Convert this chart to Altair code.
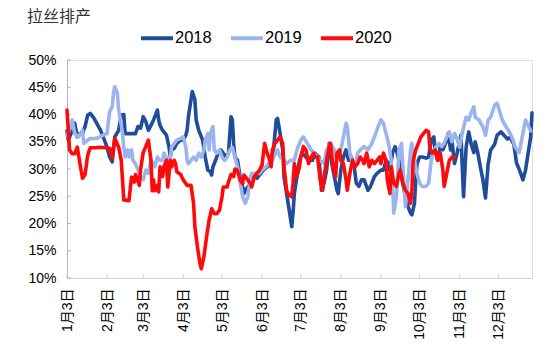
import altair as alt
import pandas as pd

# ---- data (values in %, x = days after Jan 3) ----
DAYS_2018 = [0, 1, 4, 6, 8, 10, 12, 14, 16, 18, 21, 23, 26, 28, 31, 33, 35, 36, 37, 40, 42, 44, 45, 48, 50, 53, 55, 57, 59, 61, 63, 65, 67, 68, 70, 71, 72, 74, 75, 77, 79, 80, 81, 83, 85, 88, 90, 92, 93, 94, 96, 97, 99, 100, 102, 103, 105, 107, 109, 111, 112, 113, 115, 117, 119, 121, 123, 125, 127, 128, 129, 130, 132, 134, 136, 137, 138, 140, 142, 143, 145, 147, 150, 152, 155, 158, 160, 162, 163, 165, 167, 168, 170, 172, 174, 175, 176, 178, 180, 182, 185, 187, 190, 192, 195, 196, 197, 199, 201, 203, 204, 205, 207, 209, 210, 212, 214, 216, 218, 220, 222, 224, 226, 228, 230, 233, 235, 236, 238, 240, 243, 245, 247, 249, 250, 252, 254, 255, 257, 259, 261, 262, 264, 266, 267, 269, 270, 271, 273, 275, 278, 280, 282, 284, 285, 287, 289, 291, 292, 294, 295, 297, 298, 300, 302, 305, 307, 309, 311, 313, 315, 316, 318, 320, 322, 324, 326, 328, 331, 333, 336, 339, 341, 343, 346, 348, 350, 353, 355, 357, 359, 360]
VALS_2018 = [37, 35.3, 37, 38.4, 35.9, 36.5, 36.5, 37.8, 39.9, 40.2, 39.3, 38.4, 37.1, 35.9, 34, 32.2, 31.3, 33.5, 35.9, 37.1, 39.9, 40, 36.5, 36.5, 36.5, 36.5, 37.8, 37.5, 39.6, 38.7, 37.1, 38, 39, 39.6, 40.8, 39, 38, 37.1, 36.8, 36.2, 34, 32.2, 33.5, 33.8, 34.7, 35.3, 35.3, 36.2, 37.1, 39.6, 42.7, 44.2, 42.7, 39, 37.1, 36.5, 35.3, 32.2, 29.8, 29.5, 28.9, 30.4, 31.6, 32.9, 33.5, 32.9, 32.2, 32.9, 39.6, 39, 34.7, 32.2, 31.6, 28.6, 26.7, 25.5, 26.1, 26.7, 27.3, 27.6, 28.6, 28.3, 29.2, 29.8, 30.4, 31.2, 33.9, 39, 39.3, 36.5, 33.5, 28.6, 25.5, 22.5, 19.4, 22, 25.5, 28.6, 31.6, 32.9, 32.2, 31.6, 31.6, 32.9, 32.2, 29.2, 26.1, 27.4, 29.8, 34.7, 34.1, 31, 28.6, 26.1, 25.5, 29.8, 32.2, 33.5, 31.6, 32.2, 31, 27.4, 26.8, 28, 28, 26.1, 26.8, 27.4, 28.6, 29.2, 29.8, 29.8, 31.6, 31, 29.8, 32.9, 34.1, 33.5, 31.6, 28.6, 26.1, 24.9, 23.1, 21.9, 21.6, 23.7, 28, 31, 32.2, 32.2, 32, 32.2, 35.3, 35.9, 33.5, 31.6, 34.1, 33.5, 34.1, 35.3, 36.5, 33.5, 35.3, 31, 32.9, 36.2, 24.9, 34, 36.8, 34.5, 33, 35, 33, 30.4, 28, 24.7, 30.8, 33.5, 34.5, 36.2, 36.8, 36, 35.5, 35.8, 34.5, 31.1, 30, 28, 29.8, 32.9, 35.9, 40.3]

DAYS_2019 = [0, 3, 4, 6, 9, 12, 13, 16, 18, 23, 28, 31, 33, 35, 36, 37, 39, 40, 41, 43, 44, 45, 47, 48, 50, 51, 53, 55, 57, 59, 61, 63, 65, 67, 68, 70, 72, 74, 75, 78, 80, 81, 83, 85, 88, 90, 92, 93, 94, 96, 98, 100, 102, 104, 106, 107, 109, 110, 111, 113, 114, 116, 118, 119, 120, 122, 124, 126, 128, 130, 132, 134, 136, 138, 140, 142, 143, 146, 149, 151, 154, 156, 158, 160, 163, 165, 168, 170, 173, 176, 178, 181, 183, 186, 189, 191, 194, 196, 199, 201, 204, 207, 209, 212, 214, 216, 217, 219, 221, 224, 225, 227, 230, 233, 236, 238, 241, 243, 245, 247, 249, 251, 252, 253, 255, 256, 257, 259, 261, 262, 264, 266, 267, 269, 271, 273, 275, 278, 280, 282, 284, 286, 288, 290, 292, 294, 296, 298, 300, 302, 304, 306, 309, 311, 313, 315, 316, 319, 322, 324, 326, 328, 331, 333, 335, 337, 340, 342, 345, 347, 350, 353, 355, 357, 359]
VALS_2019 = [36.2, 37.8, 39, 36.5, 35.9, 37.1, 34.7, 35.3, 35.6, 35.6, 36.2, 36.5, 40.5, 41.4, 43.9, 45.1, 43.9, 40.8, 39.6, 36.5, 34, 32.2, 33.5, 32.2, 33.5, 31.6, 31, 29.8, 28.6, 28, 29.8, 29.2, 31.6, 31, 30.4, 32.2, 31.6, 31.6, 32.9, 31.6, 32.2, 34, 34.7, 35.3, 35.6, 35.9, 34, 31.6, 31, 31.6, 32.2, 31.6, 32.9, 32.2, 33.5, 35.3, 36.5, 33.5, 36.5, 37.8, 33.5, 32.9, 33.5, 32.9, 32.2, 31.6, 32.2, 33.5, 34, 32.2, 30.4, 27.6, 24.9, 23.7, 24.9, 28.6, 29.2, 29.2, 29.2, 29.8, 30.4, 31, 31, 32.2, 33.5, 32.2, 31.6, 31, 31.6, 31.6, 33.5, 35.3, 35.9, 34.7, 33.5, 32.9, 32.2, 31.6, 31, 33.5, 34.7, 33.5, 31.6, 33.5, 35.9, 38.4, 37.8, 32.9, 31, 31.6, 32.9, 33.5, 34.1, 33.5, 34.7, 35.9, 37.8, 39, 38.4, 36.5, 34.7, 31.6, 27.4, 21.9, 24.9, 28.6, 33.5, 34.7, 26.8, 23.1, 28, 33.5, 34.7, 31.6, 29.2, 27.4, 26.8, 26.8, 27.4, 31.6, 33.5, 34.1, 34.7, 34.1, 34.7, 35.9, 36.8, 35, 36.5, 35.5, 34, 36.6, 39.5, 39, 40.4, 41.4, 39.5, 39, 37.7, 36.2, 39, 39.5, 41.7, 42.1, 40.5, 39, 37.7, 37, 35.5, 34, 33, 36.6, 39, 38, 37]

DAYS_2020 = [0, 2, 4, 6, 8, 10, 12, 14, 16, 18, 22, 26, 30, 33, 35, 37, 40, 42, 44, 48, 49, 50, 52, 53, 54, 56, 57, 59, 63, 65, 66, 67, 68, 70, 71, 72, 74, 75, 77, 78, 80, 81, 83, 84, 85, 88, 90, 93, 96, 98, 99, 101, 103, 104, 106, 108, 110, 112, 114, 116, 118, 120, 121, 124, 125, 127, 129, 130, 132, 134, 136, 137, 140, 142, 143, 145, 147, 149, 151, 153, 155, 157, 158, 159, 161, 163, 165, 167, 168, 170, 171, 174, 175, 176, 178, 180, 181, 183, 185, 187, 189, 191, 192, 194, 196, 198, 199, 201, 203, 204, 206, 208, 209, 211, 212, 214, 216, 217, 219, 221, 223, 225, 227, 229, 230, 232, 234, 236, 238, 240, 242, 243, 245, 247, 248, 250, 251, 253, 255, 257, 258, 260, 262, 264, 266, 267, 268, 270, 272, 274, 276, 278, 280, 281, 283, 285, 287, 289, 291, 292, 294, 296, 298, 300]
VALS_2020 = [40.8, 33.5, 32.8, 32.8, 34, 31, 28.3, 29, 32.5, 33.9, 33.9, 34, 33.9, 33.8, 32, 35.6, 34, 31.6, 24.3, 24.2, 26.5, 28.5, 27.6, 29, 28.4, 27, 30, 33, 35.3, 31.6, 26, 28, 26, 27, 25.8, 30.4, 28.6, 30.4, 31.6, 26.7, 31.6, 30.4, 31.6, 31, 29.5, 29, 28, 27, 27, 23.7, 19.4, 15.7, 12.6, 11.7, 13.9, 17.5, 20.6, 22.7, 21.8, 21.8, 22.4, 24.9, 26.7, 26.7, 27.6, 29, 28.6, 30, 29.7, 28, 27.3, 28.9, 28, 27.3, 26.7, 28.6, 29.2, 29.8, 30.7, 34.7, 32.9, 31.6, 30.4, 33.5, 34.7, 35.3, 35.9, 34.7, 30.4, 26.1, 25.5, 24.9, 27.4, 31, 28.6, 30.4, 32.2, 34.1, 33.5, 31, 32.2, 32.9, 32.2, 32.2, 28, 26.1, 28.6, 31.6, 34.1, 34.7, 30.4, 28.6, 32.9, 33.5, 31.6, 31, 28, 26.1, 29.2, 31.6, 30.4, 31, 32.2, 31.6, 31, 32.9, 30.4, 31.6, 31, 31.6, 32.2, 31, 32.9, 31.6, 28, 25.5, 30.4, 27.4, 26.8, 29.2, 29.8, 27.4, 26.1, 25.5, 23.7, 26.1, 31.6, 33.5, 34.7, 35.9, 36.5, 37.1, 36.8, 33.5, 32.9, 33.5, 31.6, 32.9, 29.8, 26.8, 29.2, 31.6, 32.2, 32.2]

SERIES = ["2018", "2019", "2020"]
COLORS = ["#1F4C9B", "#9BB5EC", "#FF0A0A"]
MONTH_DAYS = [0, 31, 59, 90, 120, 151, 181, 212, 243, 273, 304, 334]
MONTH_LABELS = ["1月3日", "2月3日", "3月3日", "4月3日", "5月3日", "6月3日",
                "7月3日", "8月3日", "9月3日", "10月3日", "11月3日", "12月3日"]
Y_TICKS = [10, 15, 20, 25, 30, 35, 40, 45, 50]

frames = []
for name, d, v in zip(SERIES, [DAYS_2018, DAYS_2019, DAYS_2020],
                      [VALS_2018, VALS_2019, VALS_2020]):
    frames.append(pd.DataFrame({"year": name, "day": d, "value": v}))
df = pd.concat(frames, ignore_index=True)

FONT = "Liberation Sans, Arial, Noto Sans CJK SC"
label_expr = "[" + ",".join("'%s'" % s for s in MONTH_LABELS) + "][indexof([" + \
    ",".join(str(d) for d in MONTH_DAYS) + "], datum.value)]"

xscale = alt.Scale(domain=[0, 360], nice=False, zero=False)
yscale = alt.Scale(domain=[10, 50], nice=False, zero=False)

X_AXIS = alt.Axis(values=MONTH_DAYS, labelExpr=label_expr, labelAngle=270,
                  labelFontSize=14, labelFont=FONT, labelColor="#000000",
                  domainColor="#D4D4D4", domainWidth=1, tickSize=0,
                  labelPadding=10, grid=False, title=None, labelOverlap=False)
Y_AXIS = alt.Axis(values=Y_TICKS, tickCount=9, format="d",
                  labelExpr="datum.label + '%'",
                  labelFontSize=14, labelFont=FONT, labelColor="#000000",
                  domainColor="#A9B6CC", domainWidth=1, tickSize=0,
                  labelPadding=11, grid=False, title=None,
                  labelOverlap=False, labelSeparation=0, labelBound=False)

lines = alt.Chart(df).mark_line(strokeWidth=3.6, strokeJoin="round", strokeCap="round").encode(
    x=alt.X("day:Q", scale=xscale, axis=X_AXIS),
    y=alt.Y("value:Q", scale=yscale, axis=Y_AXIS),
    color=alt.Color("year:N", scale=alt.Scale(domain=SERIES, range=COLORS),
                    legend=alt.Legend(orient="none", legendX=72, legendY=-40,
                                      direction="horizontal", title=None,
                                      symbolType="stroke", symbolSize=1024,
                                      symbolStrokeWidth=4, labelFontSize=16.5,
                                      labelFont=FONT, labelColor="#000000",
                                      columnPadding=11, labelOffset=0)),
)

xticks = alt.Chart(pd.DataFrame({"day": MONTH_DAYS})).mark_rule(
    color="#D4D4D4", strokeWidth=1).encode(
    x=alt.X("day:Q", scale=xscale, axis=X_AXIS), y=alt.datum(10), y2=alt.datum(10.8))

yticks = alt.Chart(pd.DataFrame({"v": Y_TICKS})).mark_rule(
    color="#A9B6CC", strokeWidth=1).encode(
    y=alt.Y("v:Q", scale=yscale, axis=Y_AXIS), x=alt.datum(0), x2=alt.datum(3))

chart = alt.layer(xticks, yticks, lines).properties(
    width=465, height=218,
    padding={"left": 67, "top": 60, "right": 18, "bottom": 74},
    autosize=alt.AutoSizeParams(type="none"),
    title=alt.TitleParams("拉丝排产", anchor="start", dx=-1, dy=19, fontSize=16,
                          font="Noto Sans CJK SC", fontWeight="normal",
                          color="#333333", offset=14),
).configure_view(stroke=None).configure(background="white")

chart.save("out.html", embed_options={"renderer": "svg", "actions": False})
